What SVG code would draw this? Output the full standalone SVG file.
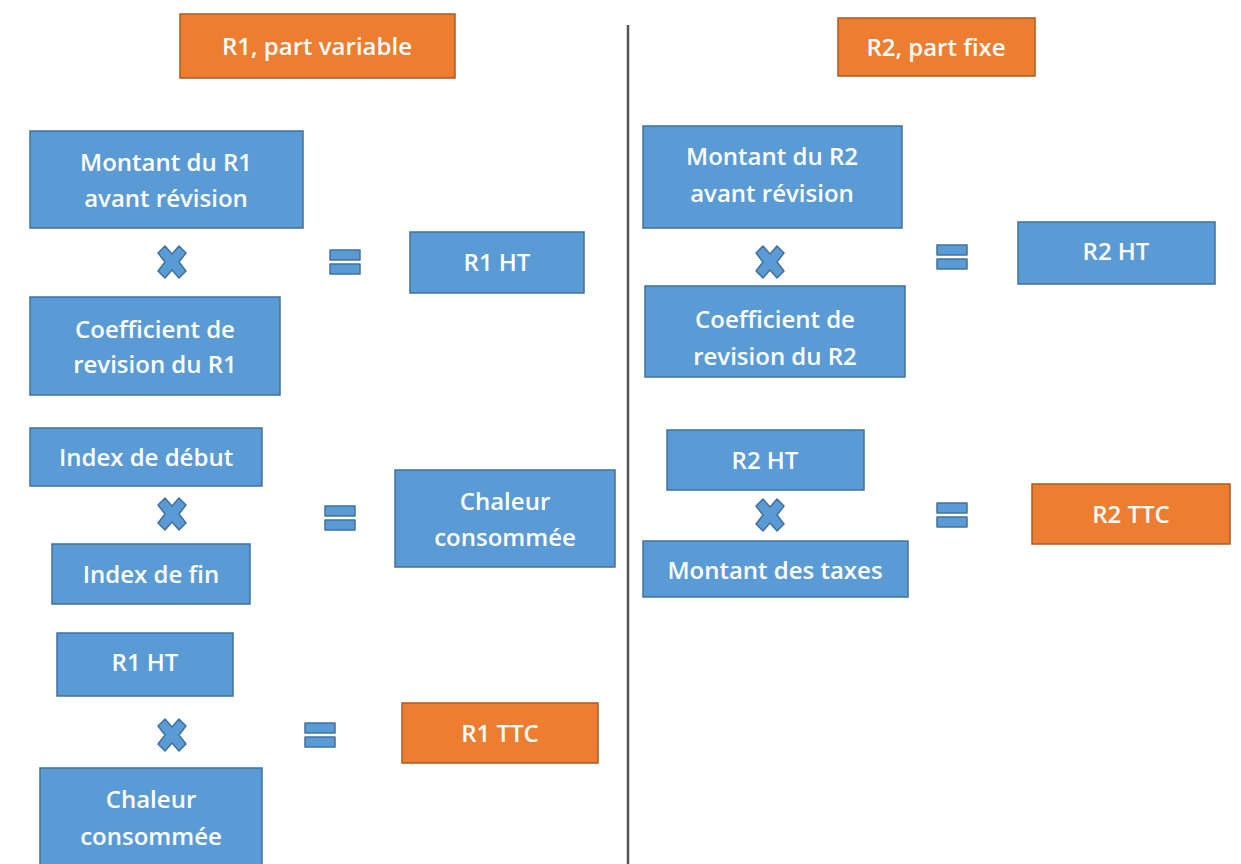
<svg xmlns="http://www.w3.org/2000/svg" xmlns:xlink="http://www.w3.org/1999/xlink" width="1241" height="864" viewBox="0 0 1241 864">
<style>
.b{fill:#5B9BD5;stroke:#41719C;stroke-width:1.5}
.o{fill:#ED7D31;stroke:#AE5A21;stroke-width:1.5}
.t{fill:#fff;font-family:"Open Sans","Liberation Sans",sans-serif;font-size:24px;font-weight:600;text-anchor:middle;dominant-baseline:central}
.op{fill:#5B9BD5;stroke:#41719C;stroke-width:1.5;stroke-linejoin:round}
</style>
<defs>
<path id="mul" class="op" d="M-7,-16 L0,-8 L7,-16 L14,-9 L7,0 L14,9 L7,16 L0,8 L-7,16 L-14,9 L-7,0 L-14,-9 Z"/>
<g id="eq"><rect class="op" x="-15" y="-12" width="30" height="10"/><rect class="op" x="-15" y="2" width="30" height="10"/></g>
</defs>
<rect width="1241" height="864" fill="#fff"/>
<g id="connectors">
<line x1="628" y1="25" x2="628" y2="864" stroke="#555" stroke-width="2.5"/>
<use xlink:href="#mul" x="172" y="262"/>
<use xlink:href="#eq" x="345" y="262"/>
<use xlink:href="#mul" x="172" y="514"/>
<use xlink:href="#eq" x="340" y="518"/>
<use xlink:href="#mul" x="172" y="735"/>
<use xlink:href="#eq" x="320" y="735"/>
<use xlink:href="#mul" x="770" y="262"/>
<use xlink:href="#eq" x="952" y="257"/>
<use xlink:href="#mul" x="770" y="515"/>
<use xlink:href="#eq" x="952" y="515"/>
</g>
<g id="title1"><rect class="o" x="180" y="14" width="275" height="64"/><text class="t" x="317" y="45">R1, part variable</text></g>
<g id="title2"><rect class="o" x="838" y="18" width="197" height="58"/><text class="t" x="936" y="46">R2, part fixe</text></g>
<g id="m1"><rect class="b" x="30" y="131" width="273" height="97"/><text class="t" x="166" y="161">Montant du R1</text><text class="t" x="166" y="197">avant révision</text></g>
<g id="r1ht"><rect class="b" x="410" y="232" width="174" height="61"/><text class="t" x="497" y="261">R1 HT</text></g>
<g id="coef1"><rect class="b" x="30" y="297" width="250" height="98"/><text class="t" x="155" y="328">Coefficient de</text><text class="t" x="155" y="363">revision du R1</text></g>
<g id="idxdeb"><rect class="b" x="30" y="428" width="232" height="58"/><text class="t" x="146" y="456">Index de début</text></g>
<g id="idxfin"><rect class="b" x="52" y="544" width="198" height="60"/><text class="t" x="151" y="573">Index de fin</text></g>
<g id="chal1"><rect class="b" x="395" y="470" width="220" height="97"/><text class="t" x="505" y="500">Chaleur</text><text class="t" x="505" y="536">consommée</text></g>
<g id="r1ht2"><rect class="b" x="57" y="633" width="176" height="63"/><text class="t" x="145" y="661">R1 HT</text></g>
<g id="r1ttc"><rect class="o" x="402" y="703" width="196" height="60"/><text class="t" x="500" y="732">R1 TTC</text></g>
<g id="chal2"><rect class="b" x="40" y="768" width="222" height="104"/><text class="t" x="151" y="798">Chaleur</text><text class="t" x="151" y="835">consommée</text></g>
<g id="m2"><rect class="b" x="643" y="126" width="259" height="102"/><text class="t" x="772" y="155">Montant du R2</text><text class="t" x="772" y="192">avant révision</text></g>
<g id="r2ht"><rect class="b" x="1018" y="222" width="197" height="62"/><text class="t" x="1116" y="250">R2 HT</text></g>
<g id="coef2"><rect class="b" x="645" y="286" width="260" height="91"/><text class="t" x="775" y="318">Coefficient de</text><text class="t" x="775" y="355">revision du R2</text></g>
<g id="r2ht2"><rect class="b" x="667" y="430" width="197" height="60"/><text class="t" x="765" y="459">R2 HT</text></g>
<g id="r2ttc"><rect class="o" x="1032" y="484" width="198" height="60"/><text class="t" x="1131" y="513">R2 TTC</text></g>
<g id="taxes"><rect class="b" x="643" y="541" width="265" height="56"/><text class="t" x="775" y="569">Montant des taxes</text></g>
</svg>
